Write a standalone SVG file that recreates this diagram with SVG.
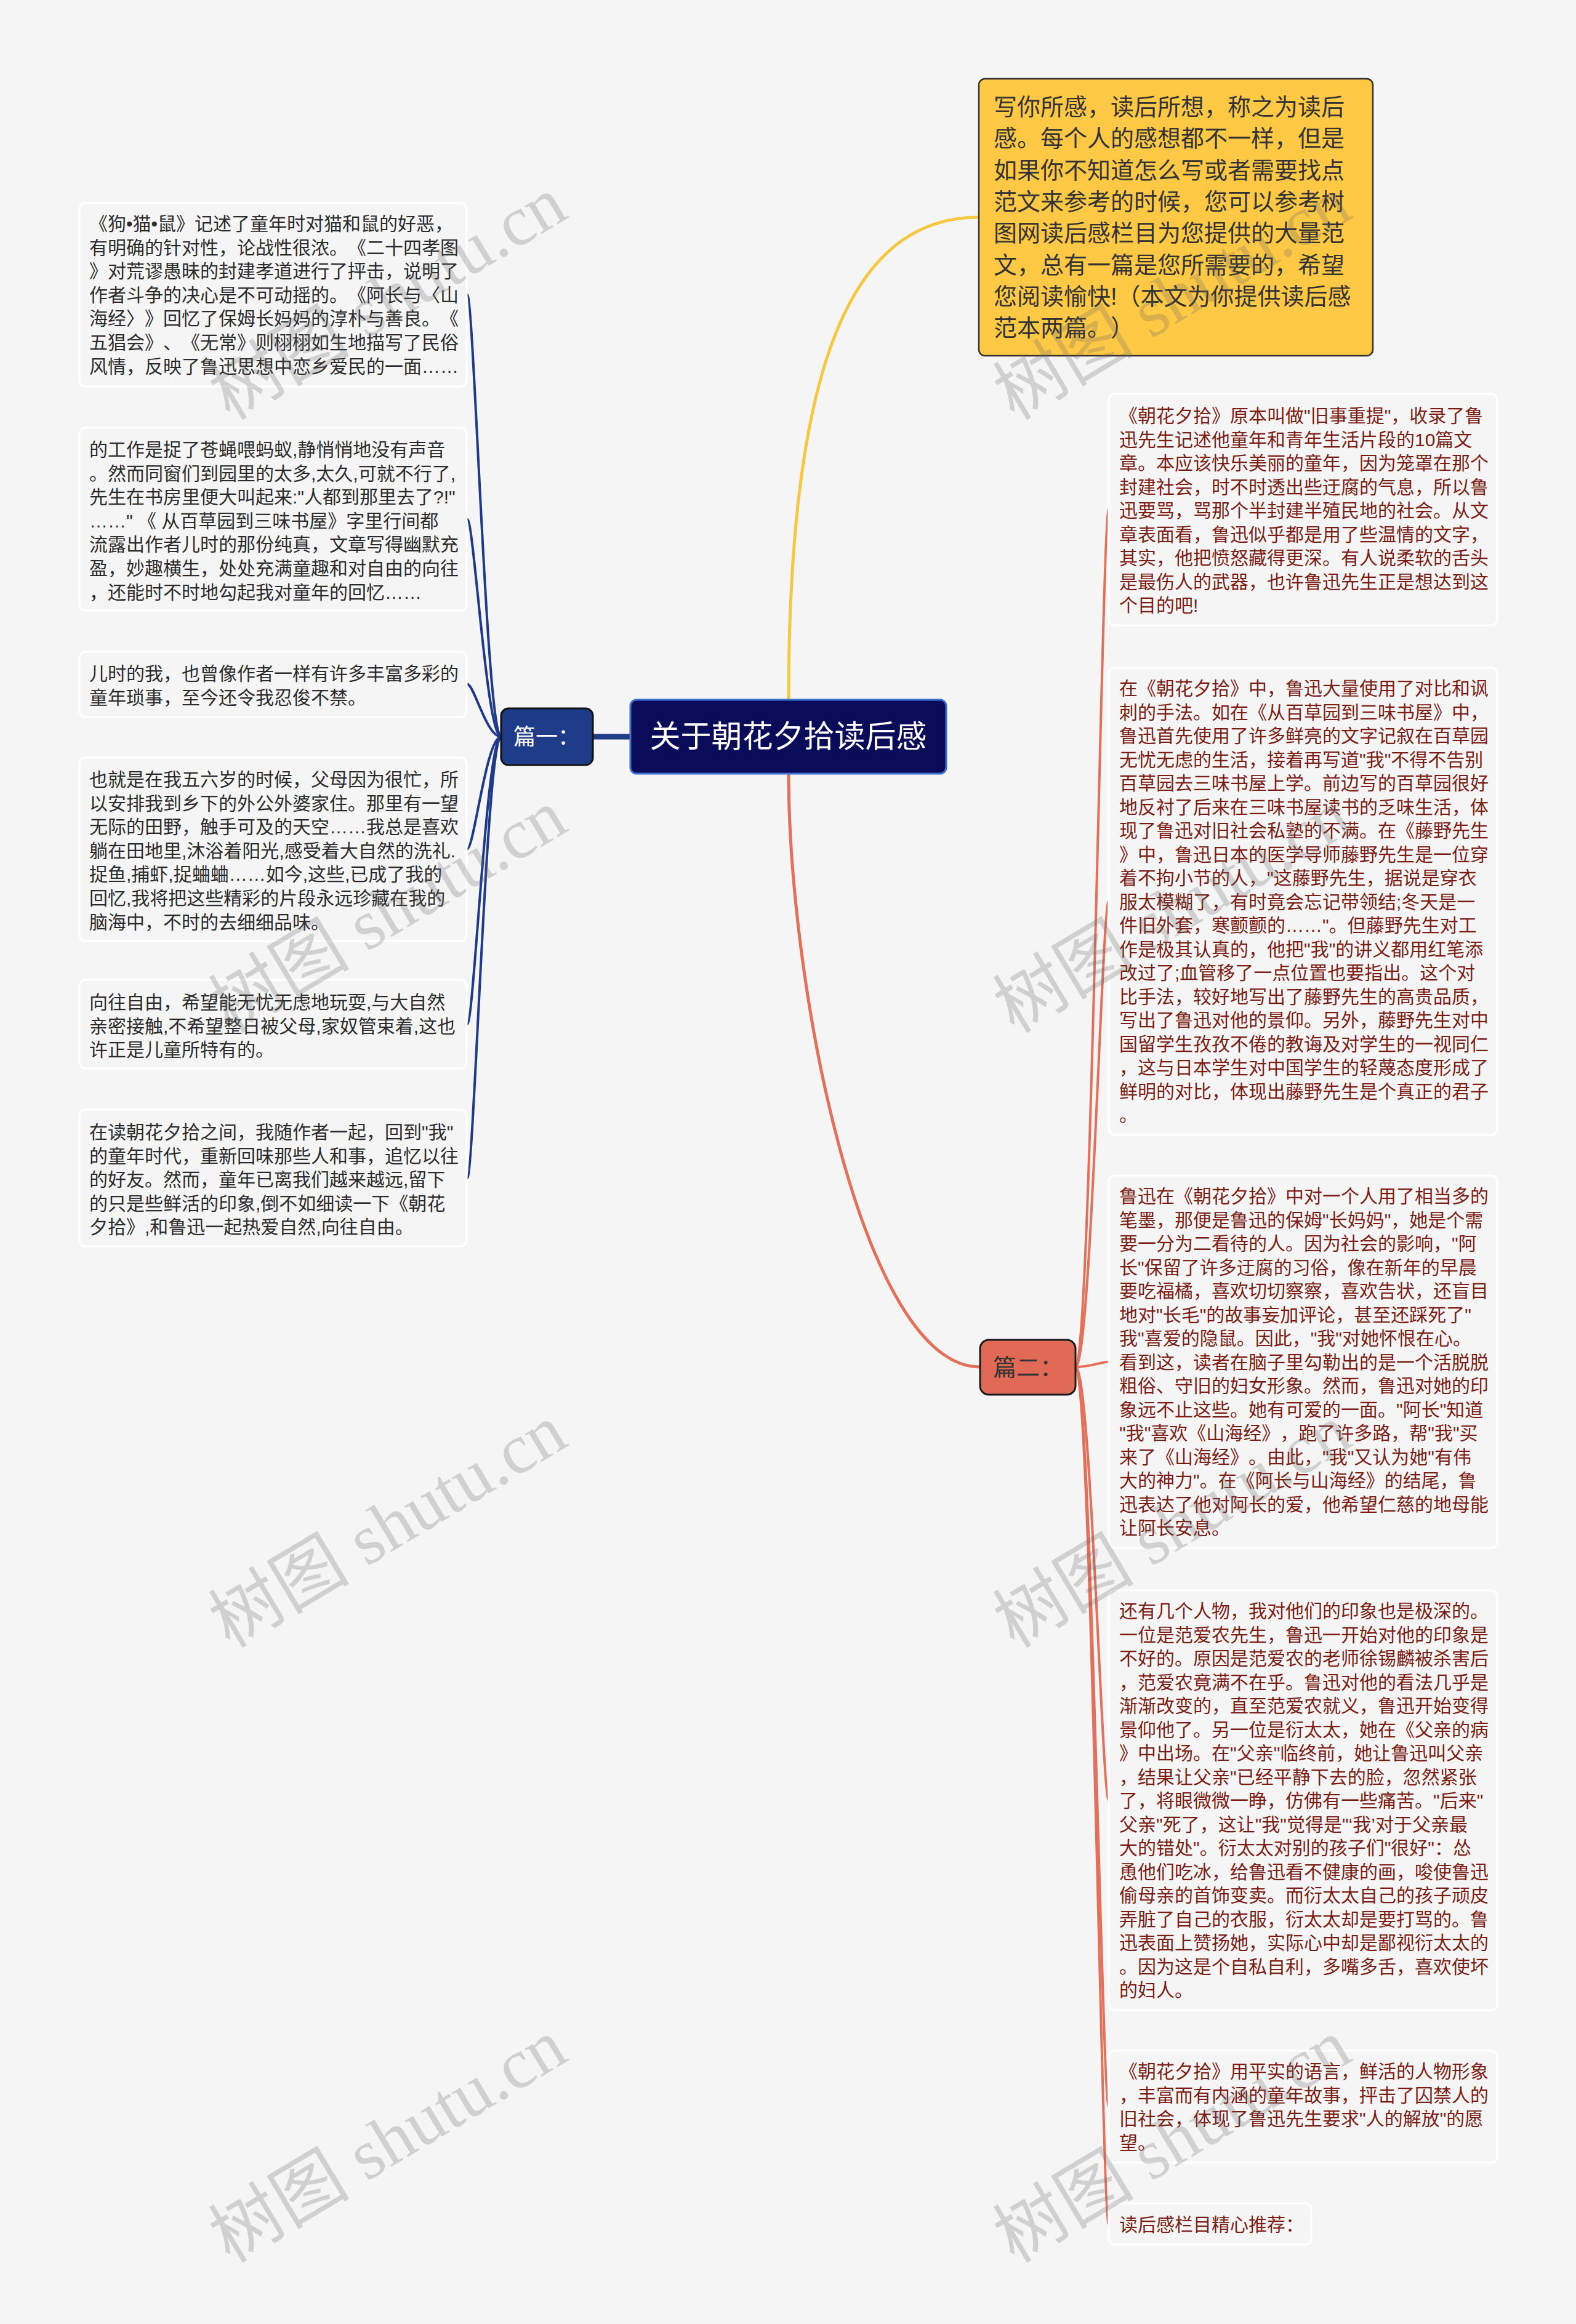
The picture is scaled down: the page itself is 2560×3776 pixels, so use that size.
<svg xmlns="http://www.w3.org/2000/svg" width="2560" height="3776" viewBox="0 0 2560 3776">
<style>
text{text-spacing-trim:space-all}
.bg{fill:#f5f5f5}
.box{fill:#f5f5f5;stroke:#ffffff;stroke-width:3}
.t{font-family:'Liberation Sans','Noto Sans CJK SC',sans-serif;font-size:30px}
.lt{fill:#2b2b2b}
.rt{fill:#7b1d14}
.lc{fill:none;stroke:#1f3a8a;stroke-width:4}
.rc{fill:none;stroke:#e2705a;stroke-width:4}
.wm{font-family:'Liberation Serif','Noto Sans CJK SC',serif;font-size:115px;fill:#666;opacity:0.25}
</style>
<rect class="bg" x="0" y="0" width="2560" height="3776"/>

<g id="connectors">
  <path d="M1281,1137 C1281,600 1380,353 1590,353" fill="none" stroke="#f5c842" stroke-width="5"/>
  <path d="M1281,1257 C1281,1600 1400,2221 1592,2221" fill="none" stroke="#e2705a" stroke-width="5"/>
  <line x1="963" y1="1197" x2="1024" y2="1197" stroke="#1f3c88" stroke-width="9"/>
  <path class="lc" d="M814,1197 C790,1197 770,479 759,479"/>
  <path class="lc" d="M814,1197 C790,1197 770,843.5 759,843.5"/>
  <path class="lc" d="M814,1197 C790,1197 770,1111.5 759,1111.5"/>
  <path class="lc" d="M814,1197 C790,1197 770,1379.5 759,1379.5"/>
  <path class="lc" d="M814,1197 C790,1197 770,1664 759,1664"/>
  <path class="lc" d="M814,1197 C790,1197 770,1914 759,1914"/>
  <path class="rc" d="M1747,2221 C1772,2221 1790,828 1801,828"/>
  <path class="rc" d="M1747,2221 C1772,2221 1790,1464.5 1801,1464.5"/>
  <path class="rc" d="M1747,2221 C1772,2221 1790,2212.5 1801,2212.5"/>
  <path class="rc" d="M1747,2221 C1772,2221 1790,2925 1801,2925"/>
  <path class="rc" d="M1747,2221 C1772,2221 1790,3423 1801,3423"/>
  <path class="rc" d="M1747,2221 C1772,2221 1790,3613.5 1801,3613.5"/>
</g>

<g id="root">
  <rect x="1024" y="1137" width="513" height="120" rx="10" fill="#0a0c5a" stroke="#3b6fd1" stroke-width="3"/>
  <text x="1280.5" y="1214" text-anchor="middle" font-family="'Liberation Sans','Noto Sans CJK SC',sans-serif" font-size="50" fill="#ffffff">关于朝花夕拾读后感</text>
</g>

<g id="intro">
  <rect x="1590" y="128" width="640" height="450" rx="10" fill="#ffc845" stroke="#333" stroke-width="2.5"/>
  <text font-family="'Liberation Sans','Noto Sans CJK SC',sans-serif" font-size="38" fill="#333">
    <tspan x="1614" y="187">写你所感，读后所想，称之为读后</tspan>
    <tspan x="1614" y="238.3">感。每个人的感想都不一样，但是</tspan>
    <tspan x="1614" y="289.6">如果你不知道怎么写或者需要找点</tspan>
    <tspan x="1614" y="340.9">范文来参考的时候，您可以参考树</tspan>
    <tspan x="1614" y="392.2">图网读后感栏目为您提供的大量范</tspan>
    <tspan x="1614" y="443.5">文，总有一篇是您所需要的，希望</tspan>
    <tspan x="1614" y="494.8">您阅读愉快!（本文为你提供读后感</tspan>
    <tspan x="1614" y="546.1">范本两篇。）</tspan>
  </text>
</g>

<g id="part1">
  <rect x="814" y="1151" width="149" height="92" rx="12" fill="#1f3c88" stroke="#111" stroke-width="3"/>
  <text x="834" y="1210" font-family="'Liberation Sans','Noto Sans CJK SC',sans-serif" font-size="36" fill="#ffffff">篇一：</text>
</g>

<g id="part2">
  <rect x="1592" y="2177" width="155" height="89" rx="14" fill="#e06a55" stroke="#1a1a1a" stroke-width="3"/>
  <text x="1613" y="2235" font-family="'Liberation Sans','Noto Sans CJK SC',sans-serif" font-size="38" fill="#333">篇二：</text>
</g>

<g id="l1">
  <rect class="box" x="129" y="330" width="629" height="298" rx="10"/>
  <text class="t lt">
    <tspan x="145" y="374">《狗•猫•鼠》记述了童年时对猫和鼠的好恶，</tspan>
    <tspan x="145" y="412.6">有明确的针对性，论战性很浓。《二十四孝图</tspan>
    <tspan x="145" y="451.2">》对荒谬愚昧的封建孝道进行了抨击，说明了</tspan>
    <tspan x="145" y="489.8">作者斗争的决心是不可动摇的。《阿长与〈山</tspan>
    <tspan x="145" y="528.4">海经〉》回忆了保姆长妈妈的淳朴与善良。《</tspan>
    <tspan x="145" y="567">五猖会》、《无常》则栩栩如生地描写了民俗</tspan>
    <tspan x="145" y="605.6">风情，反映了鲁迅思想中恋乡爱民的一面……</tspan>
  </text>
</g>

<g id="l2">
  <rect class="box" x="129" y="695" width="629" height="297" rx="10"/>
  <text class="t lt">
    <tspan x="145" y="741">的工作是捉了苍蝇喂蚂蚁,静悄悄地没有声音</tspan>
    <tspan x="145" y="779.6">。然而同窗们到园里的太多,太久,可就不行了,</tspan>
    <tspan x="145" y="818.2">先生在书房里便大叫起来:"人都到那里去了?!"</tspan>
    <tspan x="145" y="856.8">……" 《 从百草园到三味书屋》字里行间都</tspan>
    <tspan x="145" y="895.4">流露出作者儿时的那份纯真，文章写得幽默充</tspan>
    <tspan x="145" y="934">盈，妙趣横生，处处充满童趣和对自由的向往</tspan>
    <tspan x="145" y="972.6">，还能时不时地勾起我对童年的回忆……</tspan>
  </text>
</g>

<g id="l3">
  <rect class="box" x="129" y="1059" width="629" height="106" rx="10"/>
  <text class="t lt">
    <tspan x="145" y="1105">儿时的我，也曾像作者一样有许多丰富多彩的</tspan>
    <tspan x="145" y="1143.6">童年琐事，至今还令我忍俊不禁。</tspan>
  </text>
</g>

<g id="l4">
  <rect class="box" x="129" y="1231" width="629" height="298" rx="10"/>
  <text class="t lt">
    <tspan x="145" y="1277">也就是在我五六岁的时候，父母因为很忙，所</tspan>
    <tspan x="145" y="1315.6">以安排我到乡下的外公外婆家住。那里有一望</tspan>
    <tspan x="145" y="1354.2">无际的田野，触手可及的天空……我总是喜欢</tspan>
    <tspan x="145" y="1392.8">躺在田地里,沐浴着阳光,感受着大自然的洗礼.</tspan>
    <tspan x="145" y="1431.4">捉鱼,捕虾,捉蛐蛐……如今,这些,已成了我的</tspan>
    <tspan x="145" y="1470">回忆,我将把这些精彩的片段永远珍藏在我的</tspan>
    <tspan x="145" y="1508.6">脑海中，不时的去细细品味。</tspan>
  </text>
</g>

<g id="l5">
  <rect class="box" x="129" y="1592" width="629" height="144" rx="10"/>
  <text class="t lt">
    <tspan x="145" y="1639">向往自由，希望能无忧无虑地玩耍,与大自然</tspan>
    <tspan x="145" y="1677.6">亲密接触,不希望整日被父母,家奴管束着,这也</tspan>
    <tspan x="145" y="1716.2">许正是儿童所特有的。</tspan>
  </text>
</g>

<g id="l6">
  <rect class="box" x="129" y="1803" width="629" height="222" rx="10"/>
  <text class="t lt">
    <tspan x="145" y="1850">在读朝花夕拾之间，我随作者一起，回到"我"</tspan>
    <tspan x="145" y="1888.6">的童年时代，重新回味那些人和事，追忆以往</tspan>
    <tspan x="145" y="1927.2">的好友。然而，童年已离我们越来越远,留下</tspan>
    <tspan x="145" y="1965.8">的只是些鲜活的印象,倒不如细读一下《朝花</tspan>
    <tspan x="145" y="2004.4">夕拾》,和鲁迅一起热爱自然,向往自由。</tspan>
  </text>
</g>

<g id="r1">
  <rect class="box" x="1801" y="640" width="631" height="376" rx="10"/>
  <text class="t rt">
    <tspan x="1818" y="686">《朝花夕拾》原本叫做"旧事重提"，收录了鲁</tspan>
    <tspan x="1818" y="724.5">迅先生记述他童年和青年生活片段的10篇文</tspan>
    <tspan x="1818" y="763">章。本应该快乐美丽的童年，因为笼罩在那个</tspan>
    <tspan x="1818" y="801.5">封建社会，时不时透出些迂腐的气息，所以鲁</tspan>
    <tspan x="1818" y="840">迅要骂，骂那个半封建半殖民地的社会。从文</tspan>
    <tspan x="1818" y="878.5">章表面看，鲁迅似乎都是用了些温情的文字，</tspan>
    <tspan x="1818" y="917">其实，他把愤怒藏得更深。有人说柔软的舌头</tspan>
    <tspan x="1818" y="955.5">是最伤人的武器，也许鲁迅先生正是想达到这</tspan>
    <tspan x="1818" y="994">个目的吧!</tspan>
  </text>
</g>

<g id="r2">
  <rect class="box" x="1801" y="1085" width="631" height="759" rx="10"/>
  <text class="t rt">
    <tspan x="1818" y="1129">在《朝花夕拾》中，鲁迅大量使用了对比和讽</tspan>
    <tspan x="1818" y="1167.5">刺的手法。如在《从百草园到三味书屋》中，</tspan>
    <tspan x="1818" y="1206">鲁迅首先使用了许多鲜亮的文字记叙在百草园</tspan>
    <tspan x="1818" y="1244.5">无忧无虑的生活，接着再写道"我"不得不告别</tspan>
    <tspan x="1818" y="1283">百草园去三味书屋上学。前边写的百草园很好</tspan>
    <tspan x="1818" y="1321.5">地反衬了后来在三味书屋读书的乏味生活，体</tspan>
    <tspan x="1818" y="1360">现了鲁迅对旧社会私塾的不满。在《藤野先生</tspan>
    <tspan x="1818" y="1398.5">》中，鲁迅日本的医学导师藤野先生是一位穿</tspan>
    <tspan x="1818" y="1437">着不拘小节的人，"这藤野先生，据说是穿衣</tspan>
    <tspan x="1818" y="1475.5">服太模糊了，有时竟会忘记带领结;冬天是一</tspan>
    <tspan x="1818" y="1514">件旧外套，寒颤颤的……"。但藤野先生对工</tspan>
    <tspan x="1818" y="1552.5">作是极其认真的，他把"我"的讲义都用红笔添</tspan>
    <tspan x="1818" y="1591">改过了;血管移了一点位置也要指出。这个对</tspan>
    <tspan x="1818" y="1629.5">比手法，较好地写出了藤野先生的高贵品质，</tspan>
    <tspan x="1818" y="1668">写出了鲁迅对他的景仰。另外，藤野先生对中</tspan>
    <tspan x="1818" y="1706.5">国留学生孜孜不倦的教诲及对学生的一视同仁</tspan>
    <tspan x="1818" y="1745">，这与日本学生对中国学生的轻蔑态度形成了</tspan>
    <tspan x="1818" y="1783.5">鲜明的对比，体现出藤野先生是个真正的君子</tspan>
    <tspan x="1818" y="1822">。</tspan>
  </text>
</g>

<g id="r3">
  <rect class="box" x="1801" y="1910" width="631" height="605" rx="10"/>
  <text class="t rt">
    <tspan x="1818" y="1954">鲁迅在《朝花夕拾》中对一个人用了相当多的</tspan>
    <tspan x="1818" y="1992.5">笔墨，那便是鲁迅的保姆"长妈妈"，她是个需</tspan>
    <tspan x="1818" y="2031">要一分为二看待的人。因为社会的影响，"阿</tspan>
    <tspan x="1818" y="2069.5">长"保留了许多迂腐的习俗，像在新年的早晨</tspan>
    <tspan x="1818" y="2108">要吃福橘，喜欢切切察察，喜欢告状，还盲目</tspan>
    <tspan x="1818" y="2146.5">地对"长毛"的故事妄加评论，甚至还踩死了"</tspan>
    <tspan x="1818" y="2185">我"喜爱的隐鼠。因此，"我"对她怀恨在心。</tspan>
    <tspan x="1818" y="2223.5">看到这，读者在脑子里勾勒出的是一个活脱脱</tspan>
    <tspan x="1818" y="2262">粗俗、守旧的妇女形象。然而，鲁迅对她的印</tspan>
    <tspan x="1818" y="2300.5">象远不止这些。她有可爱的一面。"阿长"知道</tspan>
    <tspan x="1818" y="2339">"我"喜欢《山海经》，跑了许多路，帮"我"买</tspan>
    <tspan x="1818" y="2377.5">来了《山海经》。由此，"我"又认为她"有伟</tspan>
    <tspan x="1818" y="2416">大的神力"。在《阿长与山海经》的结尾，鲁</tspan>
    <tspan x="1818" y="2454.5">迅表达了他对阿长的爱，他希望仁慈的地母能</tspan>
    <tspan x="1818" y="2493">让阿长安息。</tspan>
  </text>
</g>

<g id="r4">
  <rect class="box" x="1801" y="2584" width="631" height="682" rx="10"/>
  <text class="t rt">
    <tspan x="1818" y="2628">还有几个人物，我对他们的印象也是极深的。</tspan>
    <tspan x="1818" y="2666.5">一位是范爱农先生，鲁迅一开始对他的印象是</tspan>
    <tspan x="1818" y="2705">不好的。原因是范爱农的老师徐锡麟被杀害后</tspan>
    <tspan x="1818" y="2743.5">，范爱农竟满不在乎。鲁迅对他的看法几乎是</tspan>
    <tspan x="1818" y="2782">渐渐改变的，直至范爱农就义，鲁迅开始变得</tspan>
    <tspan x="1818" y="2820.5">景仰他了。另一位是衍太太，她在《父亲的病</tspan>
    <tspan x="1818" y="2859">》中出场。在"父亲"临终前，她让鲁迅叫父亲</tspan>
    <tspan x="1818" y="2897.5">，结果让父亲"已经平静下去的脸，忽然紧张</tspan>
    <tspan x="1818" y="2936">了，将眼微微一睁，仿佛有一些痛苦。"后来"</tspan>
    <tspan x="1818" y="2974.5">父亲"死了，这让"我"觉得是"‘我’对于父亲最</tspan>
    <tspan x="1818" y="3013">大的错处"。衍太太对别的孩子们"很好"：怂</tspan>
    <tspan x="1818" y="3051.5">恿他们吃冰，给鲁迅看不健康的画，唆使鲁迅</tspan>
    <tspan x="1818" y="3090">偷母亲的首饰变卖。而衍太太自己的孩子顽皮</tspan>
    <tspan x="1818" y="3128.5">弄脏了自己的衣服，衍太太却是要打骂的。鲁</tspan>
    <tspan x="1818" y="3167">迅表面上赞扬她，实际心中却是鄙视衍太太的</tspan>
    <tspan x="1818" y="3205.5">。因为这是个自私自利，多嘴多舌，喜欢使坏</tspan>
    <tspan x="1818" y="3244">的妇人。</tspan>
  </text>
</g>

<g id="r5">
  <rect class="box" x="1801" y="3332" width="631" height="182" rx="10"/>
  <text class="t rt">
    <tspan x="1818" y="3376">《朝花夕拾》用平实的语言，鲜活的人物形象</tspan>
    <tspan x="1818" y="3414.5">，丰富而有内涵的童年故事，抨击了囚禁人的</tspan>
    <tspan x="1818" y="3453">旧社会，体现了鲁迅先生要求"人的解放"的愿</tspan>
    <tspan x="1818" y="3491.5">望。</tspan>
  </text>
</g>

<g id="r6">
  <rect class="box" x="1801" y="3580" width="329" height="67" rx="10"/>
  <text class="t rt" x="1818" y="3625">读后感栏目精心推荐：</text>
</g>

<g id="watermarks">
  <text class="wm" x="650" y="518" text-anchor="middle" transform="rotate(-31 650 518)">树图 shutu.cn</text>
  <text class="wm" x="650" y="1514" text-anchor="middle" transform="rotate(-31 650 1514)">树图 shutu.cn</text>
  <text class="wm" x="650" y="2513" text-anchor="middle" transform="rotate(-31 650 2513)">树图 shutu.cn</text>
  <text class="wm" x="650" y="3512" text-anchor="middle" transform="rotate(-31 650 3512)">树图 shutu.cn</text>
  <text class="wm" x="1924" y="518" text-anchor="middle" transform="rotate(-31 1924 518)">树图 shutu.cn</text>
  <text class="wm" x="1924" y="1514" text-anchor="middle" transform="rotate(-31 1924 1514)">树图 shutu.cn</text>
  <text class="wm" x="1924" y="2513" text-anchor="middle" transform="rotate(-31 1924 2513)">树图 shutu.cn</text>
  <text class="wm" x="1924" y="3512" text-anchor="middle" transform="rotate(-31 1924 3512)">树图 shutu.cn</text>
</g>
</svg>
